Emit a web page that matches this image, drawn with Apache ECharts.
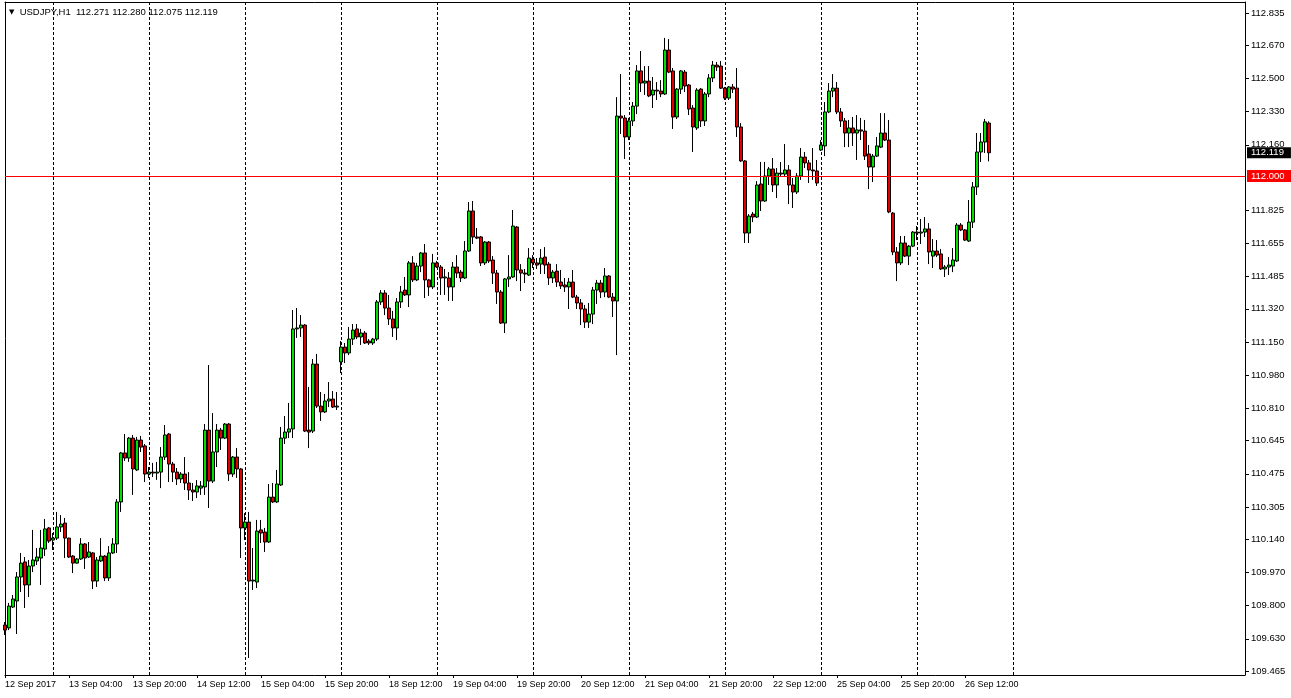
<!DOCTYPE html>
<html>
<head>
<meta charset="utf-8">
<script src="https://cdn.jsdelivr.net/npm/echarts@6/dist/echarts.min.js"></script>
<style>
html,body{margin:0;padding:0;background:#fff;}
#chart{width:1291px;height:698px;}
</style>
</head>
<body>
<div id="chart"></div>
<script>
const symbolName = 'USDJPY,H1';
const tradeDays = ['12 Sep','13 Sep','14 Sep','15 Sep','18 Sep','19 Sep','20 Sep','21 Sep','22 Sep','25 Sep','26 Sep','27 Sep','28 Sep','29 Sep'];
const firstHour = 12;
const slotCount = 311;
const daySeparators = ['13 Sep','14 Sep','15 Sep','18 Sep','19 Sep','20 Sep','21 Sep','22 Sep','25 Sep','26 Sep','27 Sep'];
const xTickLabels = ['12 Sep 2017','13 Sep 04:00','13 Sep 20:00','14 Sep 12:00','15 Sep 04:00','15 Sep 20:00','18 Sep 12:00','19 Sep 04:00','19 Sep 20:00','20 Sep 12:00','21 Sep 04:00','21 Sep 20:00','22 Sep 12:00','25 Sep 04:00','25 Sep 20:00','26 Sep 12:00'];
const xTickStep = 16;
const yTickLabels = [112.835,112.670,112.500,112.330,112.160,111.825,111.655,111.485,111.320,111.150,110.980,110.810,110.645,110.475,110.305,110.140,109.970,109.800,109.630,109.465];
const levelLine = 112.000;
const yMin = 109.445, yMax = 112.891;

const opens = [
109.701,109.686,109.793,109.824,109.947,110.024,109.906,110.003,110.029,110.044,
110.090,110.198,110.136,110.146,110.203,110.223,110.146,110.054,110.018,110.039,
110.116,110.049,110.070,109.926,110.029,110.054,109.942,110.070,110.116,110.331,
110.582,110.556,110.658,110.495,110.648,110.618,110.474,110.484,110.479,110.484,
110.561,110.679,110.525,110.484,110.449,110.474,110.428,110.392,110.382,110.402,
110.408,110.699,110.438,110.587,110.699,110.658,110.730,110.474,110.561,110.500,
110.198,110.228,109.926,109.921,110.188,110.177,110.126,110.356,110.331,110.418,
110.658,110.689,110.705,111.217,111.222,111.237,110.699,110.694,111.037,110.822,
110.792,110.848,110.858,110.817,111.048,111.124,111.094,111.165,111.217,111.176,
111.196,111.155,111.145,111.165,111.355,111.401,111.324,111.268,111.222,111.355,
111.416,111.391,111.555,111.468,111.539,111.606,111.468,111.432,111.555,111.534,
111.478,111.478,111.432,111.534,111.508,111.478,111.616,111.821,111.688,111.688,
111.555,111.662,111.570,111.503,111.406,111.247,111.473,111.483,111.739,111.519,
111.503,111.493,111.575,111.555,111.549,111.585,111.549,111.478,111.513,111.457,
111.442,111.432,111.457,111.380,111.350,111.319,111.252,111.293,111.416,111.452,
111.406,111.488,111.380,111.360,112.307,112.297,112.200,112.282,112.358,112.538,
112.476,112.486,112.415,112.440,112.435,112.420,112.645,112.538,112.302,112.445,
112.532,112.466,112.348,112.246,112.445,112.282,112.420,112.502,112.568,112.563,
112.450,112.399,112.456,112.450,112.251,112.077,111.708,111.805,111.790,111.959,
111.872,112.000,112.036,111.954,112.015,112.010,112.031,111.954,111.918,112.000,
112.097,112.067,112.031,112.026,112.133,112.154,112.328,112.435,112.450,112.328,
112.282,112.220,112.246,112.220,112.236,112.230,112.113,112.046,112.102,112.148,
112.220,112.184,111.810,111.611,111.555,111.657,111.590,111.641,111.713,111.708,
111.713,111.729,111.590,111.616,111.601,111.524,111.534,111.539,111.565,111.749,
111.724,111.667,111.764,111.944,112.123,112.174,112.271];

const highs = [
109.716,109.814,109.855,109.972,110.070,110.049,110.034,110.188,110.095,110.188,
110.244,110.203,110.172,110.280,110.264,110.249,110.148,110.059,110.044,110.146,
110.121,110.126,110.075,110.049,110.146,110.059,110.105,110.146,110.346,110.587,
110.679,110.664,110.674,110.664,110.669,110.628,110.510,110.531,110.536,110.612,
110.725,110.684,110.536,110.505,110.484,110.561,110.484,110.428,110.443,110.438,
110.730,111.032,110.786,110.730,110.710,110.735,110.735,110.566,110.607,110.505,
110.274,110.280,110.095,110.239,110.239,110.198,110.423,110.428,110.495,110.715,
110.771,110.838,111.314,111.324,111.288,111.242,110.920,111.063,111.089,110.894,
110.884,110.945,110.899,110.894,111.155,111.145,111.227,111.242,111.242,111.217,
111.206,111.165,111.171,111.365,111.416,111.416,111.391,111.309,111.375,111.437,
111.483,111.565,111.590,111.555,111.611,111.652,111.473,111.601,111.565,111.544,
111.524,111.508,111.560,111.595,111.519,111.667,111.867,111.872,111.734,111.693,
111.667,111.667,111.590,111.519,111.416,111.478,111.595,111.826,111.744,111.549,
111.524,111.631,111.595,111.580,111.626,111.636,111.560,111.519,111.549,111.519,
111.478,111.478,111.519,111.391,111.370,111.340,111.350,111.432,111.468,111.468,
111.529,111.493,111.401,112.404,112.522,112.312,112.297,112.379,112.568,112.640,
112.563,112.563,112.507,112.481,112.491,112.707,112.701,112.553,112.450,112.543,
112.543,112.471,112.363,112.450,112.450,112.430,112.522,112.589,112.584,112.589,
112.456,112.461,112.471,112.553,112.271,112.082,111.805,111.816,111.974,112.072,
112.072,112.046,112.092,112.041,112.072,112.164,112.056,111.990,112.015,112.143,
112.123,112.082,112.143,112.082,112.184,112.379,112.476,112.522,112.481,112.348,
112.297,112.287,112.302,112.312,112.297,112.287,112.159,112.113,112.200,112.322,
112.322,112.287,111.816,111.636,111.693,111.693,111.647,111.718,111.744,111.780,
111.790,111.759,111.677,111.672,111.626,111.544,111.585,111.631,111.759,111.759,
111.729,111.877,111.969,112.220,112.220,112.292,112.280];

const lows = [
109.650,109.675,109.788,109.655,109.870,109.788,109.844,109.972,110.008,109.906,
110.054,110.121,110.085,110.136,110.177,110.044,110.044,109.967,110.015,110.034,
109.988,110.044,109.885,109.896,110.024,109.926,109.926,110.065,110.070,110.280,
110.541,110.536,110.367,110.490,110.587,110.433,110.454,110.459,110.444,110.402,
110.546,110.433,110.433,110.418,110.428,110.392,110.341,110.336,110.351,110.367,
110.367,110.300,110.428,110.510,110.597,110.653,110.438,110.459,110.454,110.044,
110.136,109.532,109.880,109.890,110.121,110.075,110.121,110.326,110.326,110.413,
110.628,110.658,110.658,111.171,111.176,110.689,110.607,110.684,110.812,110.746,
110.786,110.817,110.812,110.802,110.991,111.042,111.083,111.135,111.165,111.135,
111.140,111.135,111.135,111.155,111.340,111.288,111.237,111.176,111.160,111.324,
111.386,111.329,111.457,111.462,111.508,111.375,111.386,111.421,111.529,111.391,
111.391,111.360,111.360,111.478,111.457,111.473,111.611,111.652,111.677,111.539,
111.544,111.555,111.447,111.345,111.242,111.196,111.432,111.478,111.462,111.411,
111.452,111.488,111.529,111.524,111.498,111.498,111.442,111.452,111.432,111.421,
111.406,111.319,111.375,111.319,111.237,111.222,111.222,111.242,111.345,111.375,
111.380,111.375,111.278,111.083,112.215,112.087,112.184,112.256,112.317,112.430,
112.415,112.404,112.348,112.389,112.404,112.415,112.527,112.241,112.292,112.420,
112.430,112.312,112.123,112.236,112.251,112.256,112.404,112.481,112.538,112.445,
112.389,112.389,112.425,112.200,112.072,111.657,111.657,111.764,111.785,111.821,
111.867,111.954,111.918,111.887,111.995,111.995,111.856,111.836,111.908,111.980,
112.041,111.964,111.980,111.949,112.128,112.102,112.322,112.404,112.317,112.251,
112.148,112.148,112.154,112.082,112.184,112.082,111.933,111.969,112.097,112.143,
112.179,111.810,111.595,111.462,111.544,111.585,111.544,111.636,111.672,111.652,
111.688,111.549,111.529,111.585,111.519,111.483,111.493,111.508,111.560,111.718,
111.667,111.662,111.734,111.903,112.072,112.118,112.075];

const closes = [
109.675,109.798,109.834,109.947,110.018,109.906,110.003,110.034,110.049,110.095,
110.193,110.131,110.146,110.203,110.218,110.146,110.049,110.018,110.039,110.116,
110.044,110.075,109.926,110.034,110.054,109.942,110.070,110.116,110.331,110.582,
110.556,110.658,110.500,110.648,110.612,110.474,110.484,110.479,110.484,110.561,
110.674,110.525,110.484,110.449,110.474,110.428,110.392,110.382,110.413,110.413,
110.699,110.438,110.587,110.699,110.658,110.730,110.474,110.561,110.500,110.198,
110.228,109.926,109.931,110.182,110.172,110.126,110.356,110.331,110.423,110.658,
110.689,110.705,111.217,111.222,111.237,110.694,110.689,111.037,110.822,110.792,
110.848,110.858,110.817,110.822,111.124,111.094,111.165,111.211,111.176,111.196,
111.145,111.145,111.165,111.355,111.401,111.324,111.268,111.222,111.355,111.406,
111.391,111.555,111.468,111.539,111.606,111.468,111.432,111.555,111.534,111.478,
111.483,111.432,111.534,111.503,111.478,111.616,111.821,111.688,111.682,111.555,
111.662,111.565,111.503,111.406,111.247,111.473,111.483,111.744,111.519,111.503,
111.498,111.580,111.555,111.544,111.580,111.544,111.478,111.508,111.457,111.437,
111.432,111.457,111.380,111.350,111.319,111.252,111.293,111.416,111.452,111.406,
111.488,111.380,111.360,112.307,112.297,112.200,112.282,112.358,112.538,112.476,
112.486,112.410,112.440,112.435,112.420,112.645,112.532,112.302,112.445,112.538,
112.461,112.343,112.251,112.440,112.282,112.420,112.502,112.568,112.558,112.450,
112.399,112.456,112.445,112.251,112.077,111.708,111.795,111.790,111.954,111.872,
112.000,112.036,111.954,112.015,112.010,112.031,111.954,111.918,112.000,112.097,
112.067,112.031,112.026,111.964,112.159,112.328,112.435,112.450,112.328,112.282,
112.220,112.246,112.220,112.236,112.230,112.102,112.046,112.102,112.154,112.220,
112.184,111.816,111.611,111.555,111.657,111.590,111.641,111.713,111.708,111.713,
111.729,111.611,111.616,111.595,111.524,111.534,111.544,111.570,111.749,111.724,
111.672,111.764,111.944,112.123,112.174,112.277,112.119];

// categories (hourly bars, weekends skipped)
const categories = [];
for (let d = 0; d < tradeDays.length; d++) {
  for (let h = (d === 0 ? firstHour : 0); h < 24; h++) {
    categories.push(tradeDays[d] + ' ' + String(h).padStart(2, '0') + ':00');
  }
}
categories.length = slotCount;

const candleData = opens.map((o, i) => [o, closes[i], lows[i], highs[i]]);
const last = opens.length - 1;
const lastClose = closes[last];

const FONT = 'Liberation Sans, Arial, sans-serif';
const isLabelIdx = (i) => i % xTickStep === 0 && (i / xTickStep) < xTickLabels.length;
const isDaySep = (i, v) => v && v.slice(-5) === '00:00' && daySeparators.indexOf(v.slice(0, -6)) >= 0;

const chart = echarts.init(document.getElementById('chart'), null, {renderer: 'canvas'});
chart.setOption({
  animation: false,
  backgroundColor: '#ffffff',
  title: {
    left: 9, top: 7, padding: 0,
    text: '{tri|▼}  ' + symbolName + '  ' + [opens[last], highs[last], lows[last], closes[last]].map(v => v.toFixed(3)).join(' '),
    textStyle: {
      fontFamily: FONT, fontSize: 9.5, fontWeight: 'normal', color: '#000',
      rich: { tri: { fontSize: 7, color: '#000', fontFamily: 'DejaVu Sans' } }
    }
  },
  grid: { left: 5, right: 46, top: 2, bottom: 23, show: false },
  xAxis: [{
    type: 'category', data: categories, boundaryGap: false, position: 'bottom',
    axisLine: { show: true, lineStyle: { color: '#000', width: 1 } },
    axisTick: { show: true, interval: (i) => isLabelIdx(i), length: 3, lineStyle: { color: '#000' } },
    axisLabel: {
      show: true, interval: (i) => isLabelIdx(i), align: 'left', margin: 5,
      color: '#000', fontFamily: FONT, fontSize: 9,
      formatter: (v, i) => xTickLabels[Math.round(i / xTickStep)]
    },
    splitLine: { show: true, interval: (i, v) => isDaySep(i, v), lineStyle: { color: '#000', width: 1, type: [3, 2] } }
  }, {
    type: 'category', data: categories, boundaryGap: false, position: 'top',
    axisLine: { show: true, lineStyle: { color: '#000', width: 1 } },
    axisTick: { show: false }, axisLabel: { show: false }, splitLine: { show: false }
  }],
  yAxis: [{
    type: 'value', position: 'right', min: yMin, max: yMax, scale: true,
    axisLine: { show: true, lineStyle: { color: '#000', width: 1 } },
    axisTick: { show: true, customValues: yTickLabels, length: 4, lineStyle: { color: '#000' } },
    axisLabel: {
      show: true, customValues: yTickLabels, margin: 6, color: '#000',
      fontFamily: FONT, fontSize: 9.5, formatter: (v) => Number(v).toFixed(3)
    },
    splitLine: { show: false }
  }, {
    type: 'value', position: 'left', min: yMin, max: yMax, scale: true,
    axisLine: { show: true, onZero: false, lineStyle: { color: '#000', width: 1 } },
    axisTick: { show: false }, axisLabel: { show: false }, splitLine: { show: false }
  }],
  series: [{
    type: 'candlestick',
    xAxisIndex: 0, yAxisIndex: 0,
    data: candleData,
    barWidth: 3,
    itemStyle: {
      color: '#00e000', color0: '#e00000',
      borderColor: '#000', borderColor0: '#000', borderColorDoji: '#000', borderWidth: 1
    },
    markLine: {
      silent: true, symbol: 'none', animation: false, precision: 3,
      data: [
        {
          yAxis: levelLine,
          lineStyle: { color: '#ff0000', width: 1, type: 'solid' },
          label: {
            show: true, position: 'end', distance: 2, formatter: () => levelLine.toFixed(3),
            color: '#fff', backgroundColor: '#ff0000', fontFamily: FONT, fontSize: 9.5,
            padding: [1, 7, 1, 4]
          }
        },
        {
          yAxis: lastClose,
          lineStyle: { color: 'rgba(0,0,0,0)', width: 1, type: 'solid' },
          label: {
            show: true, position: 'end', distance: 2, formatter: () => lastClose.toFixed(3),
            color: '#fff', backgroundColor: '#000', fontFamily: FONT, fontSize: 9.5,
            padding: [1, 7, 0, 4]
          }
        }
      ]
    }
  }]
});
</script>
</body>
</html>
